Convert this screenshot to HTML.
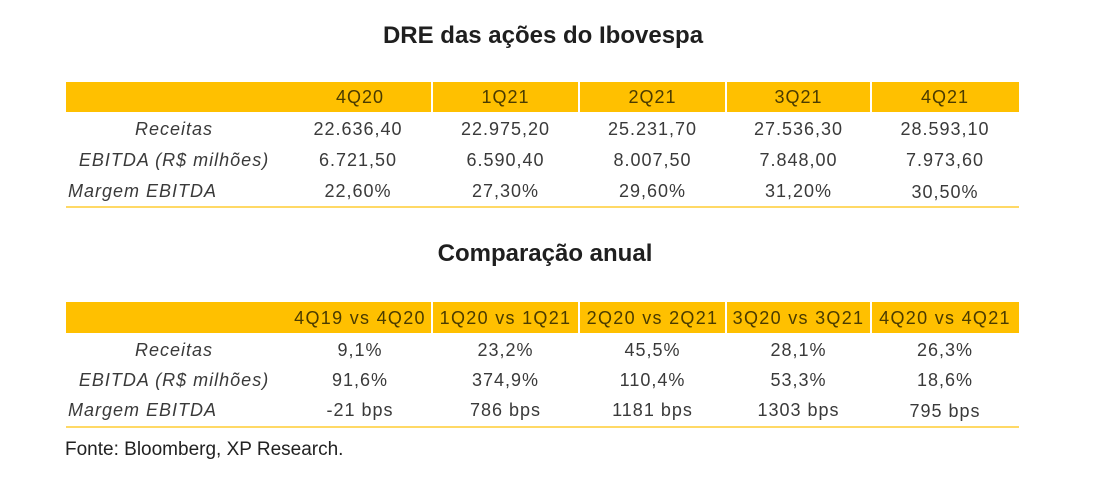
<!DOCTYPE html>
<html>
<head>
<meta charset="utf-8">
<style>
  html,body{margin:0;padding:0;background:#fff;}
  body{width:1102px;height:485px;position:relative;overflow:hidden;font-family:"Liberation Sans",sans-serif;}
  .t{position:absolute;white-space:nowrap;text-align:center;}
  .title{font-weight:bold;font-size:24px;color:#1f1f1f;left:0;width:1102px;line-height:30px;}
  .bar{position:absolute;left:66px;width:953px;background:#FFC000;}
  .sep{position:absolute;width:2px;background:#fff;}
  .hd{font-size:18px;color:#4a3b00;letter-spacing:1px;line-height:30px;}
  .v{font-size:18px;color:#3a3a3a;letter-spacing:1px;line-height:30px;}
  .lab{font-size:18px;color:#3a3a3a;font-style:italic;letter-spacing:1px;line-height:30px;}
  .line{position:absolute;left:66px;width:953px;height:2px;background:#FFD966;}
</style>
</head>
<body>

<div class="t title" style="top:21px;left:-8px;">DRE das ações do Ibovespa</div>

<!-- Table 1 header -->
<div class="bar" style="top:82px;height:30px;"></div>
<div class="sep" style="left:431px;top:82px;height:30px;"></div>
<div class="sep" style="left:578px;top:82px;height:30px;"></div>
<div class="sep" style="left:725px;top:82px;height:30px;"></div>
<div class="sep" style="left:870px;top:82px;height:30px;"></div>

<div class="t hd" style="top:82px;left:288px;width:144px;">4Q20</div>
<div class="t hd" style="top:82px;left:432px;width:147px;">1Q21</div>
<div class="t hd" style="top:82px;left:579px;width:147px;">2Q21</div>
<div class="t hd" style="top:82px;left:726px;width:145px;">3Q21</div>
<div class="t hd" style="top:82px;left:871px;width:148px;">4Q21</div>

<!-- Table 1 rows -->
<div class="t lab" style="top:114px;left:74px;width:200px;">Receitas</div>
<div class="t lab" style="top:145px;left:74px;width:200px;">EBITDA (R$ milhões)</div>
<div class="t lab" style="top:176px;left:68px;text-align:left;">Margem EBITDA</div>

<div class="t v" style="top:114px;left:286px;width:144px;">22.636,40</div>
<div class="t v" style="top:114px;left:432px;width:147px;">22.975,20</div>
<div class="t v" style="top:114px;left:579px;width:147px;">25.231,70</div>
<div class="t v" style="top:114px;left:726px;width:145px;">27.536,30</div>
<div class="t v" style="top:114px;left:871px;width:148px;">28.593,10</div>

<div class="t v" style="top:145px;left:286px;width:144px;">6.721,50</div>
<div class="t v" style="top:145px;left:432px;width:147px;">6.590,40</div>
<div class="t v" style="top:145px;left:579px;width:147px;">8.007,50</div>
<div class="t v" style="top:145px;left:726px;width:145px;">7.848,00</div>
<div class="t v" style="top:145px;left:871px;width:148px;">7.973,60</div>

<div class="t v" style="top:176px;left:286px;width:144px;">22,60%</div>
<div class="t v" style="top:176px;left:432px;width:147px;">27,30%</div>
<div class="t v" style="top:176px;left:579px;width:147px;">29,60%</div>
<div class="t v" style="top:176px;left:726px;width:145px;">31,20%</div>
<div class="t v" style="top:177px;left:871px;width:148px;">30,50%</div>

<div class="line" style="top:206px;"></div>

<div class="t title" style="top:239px;left:-6px;">Comparação anual</div>

<!-- Table 2 header -->
<div class="bar" style="top:302px;height:31px;"></div>
<div class="sep" style="left:431px;top:302px;height:31px;"></div>
<div class="sep" style="left:578px;top:302px;height:31px;"></div>
<div class="sep" style="left:725px;top:302px;height:31px;"></div>
<div class="sep" style="left:870px;top:302px;height:31px;"></div>

<div class="t hd" style="top:303px;left:288px;width:144px;letter-spacing:1.3px;">4Q19 vs 4Q20</div>
<div class="t hd" style="top:303px;left:432px;width:147px;letter-spacing:1.3px;">1Q20 vs 1Q21</div>
<div class="t hd" style="top:303px;left:579px;width:147px;letter-spacing:1.3px;">2Q20 vs 2Q21</div>
<div class="t hd" style="top:303px;left:726px;width:145px;letter-spacing:1.3px;">3Q20 vs 3Q21</div>
<div class="t hd" style="top:303px;left:871px;width:148px;letter-spacing:1.3px;">4Q20 vs 4Q21</div>

<!-- Table 2 rows -->
<div class="t lab" style="top:335px;left:74px;width:200px;">Receitas</div>
<div class="t lab" style="top:365px;left:74px;width:200px;">EBITDA (R$ milhões)</div>
<div class="t lab" style="top:395px;left:68px;text-align:left;">Margem EBITDA</div>

<div class="t v" style="top:335px;left:288px;width:144px;">9,1%</div>
<div class="t v" style="top:335px;left:432px;width:147px;">23,2%</div>
<div class="t v" style="top:335px;left:579px;width:147px;">45,5%</div>
<div class="t v" style="top:335px;left:726px;width:145px;">28,1%</div>
<div class="t v" style="top:335px;left:871px;width:148px;">26,3%</div>

<div class="t v" style="top:365px;left:288px;width:144px;">91,6%</div>
<div class="t v" style="top:365px;left:432px;width:147px;">374,9%</div>
<div class="t v" style="top:365px;left:579px;width:147px;">110,4%</div>
<div class="t v" style="top:365px;left:726px;width:145px;">53,3%</div>
<div class="t v" style="top:365px;left:871px;width:148px;">18,6%</div>

<div class="t v" style="top:395px;left:288px;width:144px;">-21 bps</div>
<div class="t v" style="top:395px;left:432px;width:147px;">786 bps</div>
<div class="t v" style="top:395px;left:579px;width:147px;">1181 bps</div>
<div class="t v" style="top:395px;left:726px;width:145px;">1303 bps</div>
<div class="t v" style="top:396px;left:871px;width:148px;">795 bps</div>

<div class="line" style="top:426px;"></div>

<div class="t" style="top:439px;left:65px;font-size:19px;color:#222;line-height:22px;">Fonte: Bloomberg, XP Research.</div>

</body>
</html>
